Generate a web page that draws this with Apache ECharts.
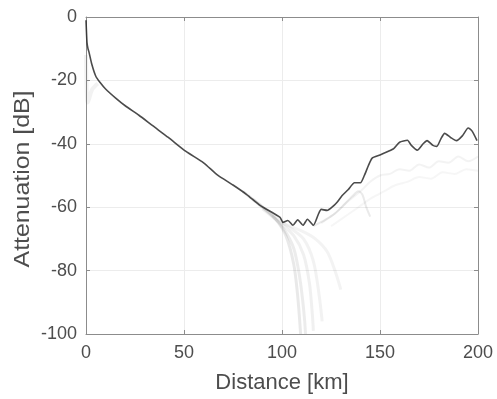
<!DOCTYPE html>
<html>
<head>
<meta charset="utf-8">
<script src="https://cdn.jsdelivr.net/npm/echarts@6/dist/echarts.min.js"></script>
<style>
  html, body { margin: 0; padding: 0; background: #fff; }
  #chart { width: 497px; height: 399px; }
</style>
</head>
<body>
<div id="chart"></div>
<script>
// main (dark) trace
const mainDist  = [0, 0.5, 1, 1.5, 3, 5, 7, 10, 15, 20, 27, 34, 42, 51, 60, 67, 75, 82, 89, 99, 100.5, 103, 105.6, 108, 110.7, 113, 116, 118.5, 120, 123, 125.5, 128, 130.6, 133.7, 137, 140, 142, 144, 146, 150, 154, 157, 160, 164, 166, 169, 172, 174, 177, 179, 181, 183, 186, 189, 192, 195, 197, 199.5];
const mainAtten = [-1, -8, -10, -11, -15, -18.7, -20.5, -22.7, -25.5, -28, -31, -34.3, -38, -42.4, -46, -49.8, -53, -56, -59.5, -63.2, -64.8, -64.2, -65.7, -64, -65.7, -63.8, -65.7, -62.3, -60.7, -61, -60, -58.5, -56.4, -54.5, -52.3, -52.3, -50, -47, -44.5, -43.5, -42.4, -41.5, -39.5, -38.9, -40.5, -42, -40, -39, -40.5, -40.8, -38.5, -36.7, -38, -39, -37.5, -35, -36, -39];

// faint traces that drop towards -100 near 110 km
const dropADist  = [80, 90, 97, 102, 106, 108, 109.5];
const dropAAtten = [-55, -60, -64, -69, -78, -88, -100];
const dropBDist  = [85, 95, 101, 106, 109, 111, 112];
const dropBAtten = [-57.5, -62.5, -67, -73, -82, -92, -100];
const dropCDist  = [90, 100, 106, 111, 114, 115.5, 116];
const dropCAtten = [-60.5, -65.5, -69, -75, -84, -94, -99];
const dropDDist  = [95, 104, 111, 116, 119, 120.5];
const dropDAtten = [-62.5, -66.5, -70, -77, -88, -96];
const dropEDist  = [100, 110, 117, 123, 127, 130];
const dropEAtten = [-65, -67.5, -70, -74, -80, -86];

// faint traces on the rising side
const riseADist  = [116, 122, 127, 132, 136, 139, 141, 143, 145];
const riseAAtten = [-66, -64, -62, -59, -56.5, -55, -56, -60, -63];
const riseBDist  = [120, 127, 134, 140, 145, 150, 155, 160, 165, 170, 175, 180, 185, 190, 195, 200];
const riseBAtten = [-65, -62, -58, -55, -52, -50, -49.5, -48, -48.5, -46.5, -47.5, -45.5, -46, -44, -45.5, -44];
const riseCDist  = [125, 132, 139, 146, 152, 158, 164, 170, 176, 182, 188, 194, 200];
const riseCAtten = [-66, -63, -60, -57, -55, -53, -52, -50.5, -51, -49, -49.5, -48, -48.5];

// faint start transient
const startDist  = [0, 0.3, 0.8, 1.5, 3, 6];
const startAtten = [-12, -22, -27, -26, -23, -21];

// tick values
const xTicks = [0, 50, 100, 150, 200];
const yTicks = [-100, -80, -60, -40, -20, 0];

const zip = (a, b) => a.map((v, i) => [v, b[i]]);

const chart = echarts.init(document.getElementById('chart'));

const faint = (d, a, op, w) => ({
  type: 'line',
  data: zip(d, a),
  showSymbol: false,
  smooth: 0.3,
  lineStyle: { color: '#555', width: w || 3, opacity: op },
  z: 2
});

const fontFamily = 'Liberation Sans, Arial, sans-serif';
const labelFont = { color: '#4d4d4d', fontSize: 18, fontFamily: fontFamily };
const boxLine = { show: true, onZero: false, lineStyle: { color: '#8c8c8c', width: 1 } };
const boxTick = { show: true, inside: true, length: 4, lineStyle: { color: '#8c8c8c' } };
const grid = { show: true, lineStyle: { color: '#ececec', width: 1 } };

chart.setOption({
  animation: false,
  grid: { left: 86, right: 19, top: 17, bottom: 62 },
  xAxis: [
    {
      type: 'value', min: xTicks[0], max: xTicks[xTicks.length - 1], interval: 50,
      name: 'Distance [km]', nameLocation: 'middle', nameGap: 38,
      nameTextStyle: { color: '#4d4d4d', fontSize: 22, fontFamily: fontFamily },
      axisLabel: Object.assign({ margin: 10 }, labelFont),
      axisLine: boxLine, axisTick: boxTick, splitLine: grid
    },
    {
      type: 'value', position: 'top', min: 0, max: 200, interval: 50,
      axisLabel: { show: false }, axisLine: boxLine, axisTick: boxTick, splitLine: { show: false }
    }
  ],
  yAxis: [
    {
      type: 'value', min: yTicks[0], max: yTicks[yTicks.length - 1], interval: 20,
      axisLabel: Object.assign({ margin: 9 }, labelFont),
      axisLine: boxLine, axisTick: boxTick, splitLine: grid
    },
    {
      type: 'value', position: 'right', min: -100, max: 0, interval: 20,
      axisLabel: { show: false }, axisLine: boxLine, axisTick: boxTick, splitLine: { show: false }
    }
  ],
  graphic: [
    {
      type: 'text',
      x: 23, y: 179,
      rotation: Math.PI / 2,
      scaleX: 1.13,
      style: {
        text: 'Attenuation [dB]',
        fill: '#4d4d4d',
        font: '22px ' + fontFamily,
        align: 'center',
        verticalAlign: 'middle'
      }
    }
  ],
  series: [
    faint(startDist, startAtten, 0.08, 4),
    faint(dropADist, dropAAtten, 0.13),
    faint(dropBDist, dropBAtten, 0.11),
    faint(dropCDist, dropCAtten, 0.09),
    faint(dropDDist, dropDAtten, 0.08),
    faint(dropEDist, dropEAtten, 0.07),
    faint(riseADist, riseAAtten, 0.12, 2),
    faint(riseBDist, riseBAtten, 0.07, 2),
    faint(riseCDist, riseCAtten, 0.05, 2),
    {
      type: 'line',
      data: zip(mainDist, mainAtten),
      showSymbol: false,
      smooth: 0.2,
      lineStyle: { color: '#2b2b2b', width: 1.6, opacity: 0.85 },
      z: 3
    }
  ]
});
</script>
</body>
</html>
